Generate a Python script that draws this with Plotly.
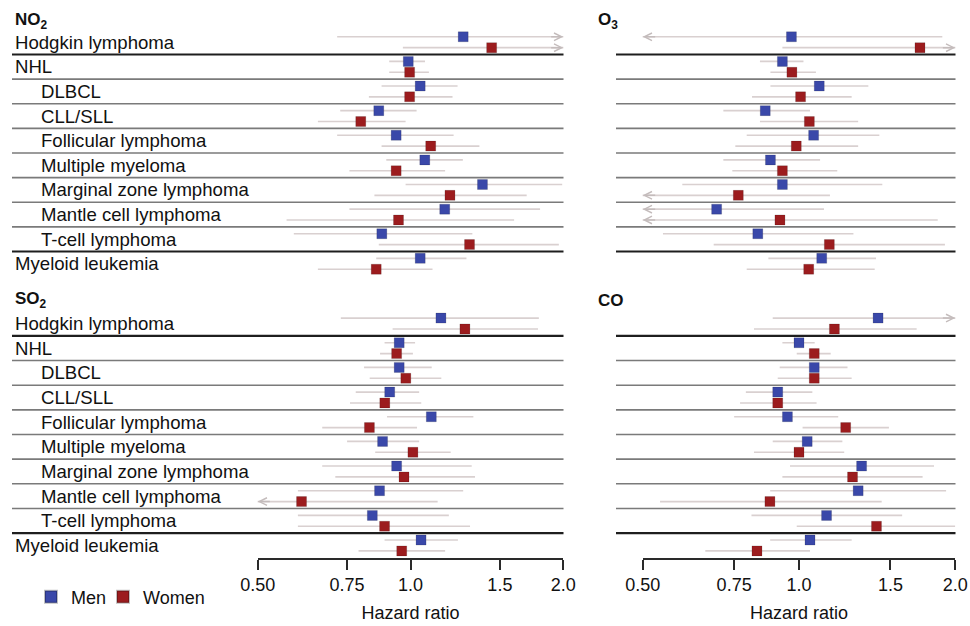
import numpy as np
import plotly.graph_objects as go

# ---------------- data ----------------
categories = ["Hodgkin lymphoma", "NHL", "DLBCL", "CLL/SLL", "Follicular lymphoma",
              "Multiple myeloma", "Marginal zone lymphoma", "Mantle cell lymphoma",
              "T-cell lymphoma", "Myeloid leukemia"]
indented = [False, False, True, True, True, True, True, True, True, False]
tick_vals = [0.5, 0.75, 1.0, 1.5, 2.0]
tick_text = ["0.50", "0.75", "1.0", "1.5", "2.0"]
x_min, x_max = 0.5, 2.0

# NO2
no2_men_hr = [1.27, 0.99, 1.045, 0.866, 0.937, 1.067, 1.386, 1.168, 0.878, 1.045]
no2_men_lo = [0.717, 0.908, 0.877, 0.727, 0.717, 0.896, 0.978, 0.758, 0.589, 0.856]
no2_men_hi = [2.5, 1.068, 1.238, 1.028, 1.216, 1.268, 1.99, 1.80, 1.324, 1.289]
no2_women_hr = [1.445, 0.996, 0.996, 0.798, 1.096, 0.937, 1.196, 0.947, 1.307, 0.856]
no2_women_lo = [0.966, 0.908, 0.828, 0.657, 0.877, 0.758, 0.849, 0.570, 0.866, 0.657]
no2_women_hi = [2.6, 1.087, 1.21, 0.978, 1.367, 1.17, 1.694, 1.60, 1.96, 1.105]

# O3
o3_men_hr = [0.967, 0.929, 1.094, 0.861, 1.067, 0.881, 0.929, 0.694, 0.833, 1.106]
o3_men_lo = [0.45, 0.841, 0.881, 0.715, 0.793, 0.715, 0.596, 0.45, 0.547, 0.873]
o3_men_hi = [1.888, 1.02, 1.36, 1.05, 1.428, 1.098, 1.447, 1.117, 1.273, 1.407]
o3_women_hr = [1.71, 0.969, 1.007, 1.047, 0.988, 0.929, 0.764, 0.919, 1.144, 1.044]
o3_women_lo = [0.929, 0.881, 0.812, 0.841, 0.754, 0.744, 0.45, 0.45, 0.685, 0.793]
o3_women_hi = [2.6, 1.078, 1.263, 1.30, 1.30, 1.185, 1.147, 1.85, 1.91, 1.399]

# SO2
so2_men_hr = [1.148, 0.95, 0.95, 0.91, 1.099, 0.881, 0.939, 0.869, 0.841, 1.049]
so2_men_lo = [0.729, 0.889, 0.81, 0.78, 0.899, 0.75, 0.67, 0.60, 0.60, 0.889]
so2_men_hi = [1.79, 1.021, 1.101, 1.04, 1.33, 1.04, 1.32, 1.27, 1.19, 1.24]
so2_women_hr = [1.28, 0.939, 0.979, 0.89, 0.83, 1.011, 0.971, 0.61, 0.889, 0.961]
so2_women_lo = [0.922, 0.871, 0.831, 0.76, 0.67, 0.852, 0.711, 0.45, 0.60, 0.79]
so2_women_hi = [1.783, 1.011, 1.15, 1.05, 1.03, 1.20, 1.34, 1.131, 1.31, 1.17]

# CO
co_men_hr = [1.42, 1.0, 1.07, 0.91, 0.95, 1.037, 1.32, 1.30, 1.13, 1.05]
co_men_lo = [0.89, 0.929, 0.918, 0.79, 0.75, 0.89, 0.961, 0.88, 0.81, 0.88]
co_men_hi = [2.4, 1.072, 1.24, 1.061, 1.19, 1.212, 1.82, 1.92, 1.58, 1.263]
co_women_hr = [1.17, 1.07, 1.07, 0.91, 1.23, 1.0, 1.268, 0.879, 1.41, 0.83]
co_women_lo = [0.819, 0.99, 0.91, 0.77, 1.016, 0.819, 0.929, 0.54, 0.99, 0.66]
co_women_hi = [1.685, 1.151, 1.263, 1.081, 1.49, 1.222, 1.73, 1.443, 2.0, 1.05]

# ---------------- style / layout ----------------
W, H = 970, 626
FONT = "Liberation Sans, Arial, Helvetica, sans-serif"
MEN_C = "#3a48a9"
WOMEN_C = "#9c1c1e"
CI_C = "#d9d0d0"
ARROW_C = "#c4bcbc"
OFF = 0.22


def px(x):
    return x / W


def py(y):
    return 1 - y / H


panels = [
    dict(title="<b>NO<sub>2</sub></b>", xa="x", ya="y", left=True, top=True,
         men=(no2_men_hr, no2_men_lo, no2_men_hi), women=(no2_women_hr, no2_women_lo, no2_women_hi)),
    dict(title="<b>O<sub>3</sub></b>", xa="x2", ya="y2", left=False, top=True,
         men=(o3_men_hr, o3_men_lo, o3_men_hi), women=(o3_women_hr, o3_women_lo, o3_women_hi)),
    dict(title="<b>SO<sub>2</sub></b>", xa="x3", ya="y3", left=True, top=False,
         men=(so2_men_hr, so2_men_lo, so2_men_hi), women=(so2_women_hr, so2_women_lo, so2_women_hi)),
    dict(title="<b>CO</b>", xa="x4", ya="y4", left=False, top=False,
         men=(co_men_hr, co_men_lo, co_men_hi), women=(co_women_hr, co_women_lo, co_women_hi)),
]

left_dom = [px(257.7), px(563.3)]
right_dom = [px(642.7), px(955.3)]
top_dom = [py(276.1), py(29.9)]
bot_dom = [py(557.8), py(311.2)]

fig = go.Figure()
n = len(categories)
annotations = []
shapes = []


def arrow(xa, ya, y, tip, tail):
    return dict(x=np.log10(tip), y=y, ax=np.log10(tail), ay=y,
                xref=xa, yref=ya, axref=xa, ayref=ya,
                text="", showarrow=True, arrowhead=5, arrowsize=1,
                arrowwidth=1.5, arrowcolor=ARROW_C, standoff=0)


for pi, p in enumerate(panels):
    for sex, key, color, off in (("Men", "men", MEN_C, -OFF), ("Women", "women", WOMEN_C, OFF)):
        hr, lo, hi = p[key]
        xs, ys = [], []
        for i in range(n):
            xs += [lo[i], hi[i], None]
            ys += [i + off, i + off, None]
            if hi[i] > x_max:
                annotations.append(arrow(p["xa"], p["ya"], i + off, x_max, x_max * 0.94))
            if lo[i] < x_min:
                annotations.append(arrow(p["xa"], p["ya"], i + off, x_min, x_min / 0.94))
        fig.add_trace(go.Scatter(x=xs, y=ys, mode="lines", line=dict(color=CI_C, width=1.6),
                                 xaxis=p["xa"], yaxis=p["ya"], showlegend=False, hoverinfo="skip"))

for pi, p in enumerate(panels):
    for sex, key, color, off, leg in (("Men", "men", MEN_C, -OFF, "legend"),
                                      ("Women", "women", WOMEN_C, OFF, "legend2")):
        hr, lo, hi = p[key]
        fig.add_trace(go.Scatter(
            x=hr, y=[i + off for i in range(n)], mode="markers", name=sex,
            marker=dict(symbol="square", size=10, color=color, line=dict(color="rgba(0,0,0,0.25)", width=0.6)),
            xaxis=p["xa"], yaxis=p["ya"], showlegend=(pi == 0), legendgroup=sex, legend=leg))

    # separators
    x0 = 12 if p["left"] else 616
    x1 = 563.5 if p["left"] else 955.5
    for i in range(n - 1):
        thick = i in (0, n - 2)
        shapes.append(dict(type="line", xref="paper", yref=p["ya"], x0=px(x0), x1=px(x1),
                           y0=i + 0.5, y1=i + 0.5, layer="below",
                           line=dict(color="#1e1e1e" if thick else "#7a7a7a", width=2.2 if thick else 1.6)))
    # titles
    tx = 13 if p["left"] else 596
    ty = 21 if p["top"] else 300
    annotations.append(dict(x=px(tx), y=py(ty), xref="paper", yref="paper", text=p["title"],
                            showarrow=False, xanchor="left", yanchor="middle",
                            font=dict(family=FONT, size=17, color="#111")))
    # category labels
    if p["left"]:
        for i, c in enumerate(categories):
            annotations.append(dict(x=px(39 if indented[i] else 13), y=i, xref="paper", yref=p["ya"],
                                    text=c, showarrow=False, xanchor="left", yanchor="middle",
                                    font=dict(family=FONT, size=18.6, color="#111")))

# reference line at HR = 1.0
for xa in ("x3", "x4"):
    shapes.append(dict(type="line", xref=xa, yref="paper", x0=np.log10(1.0), x1=np.log10(1.0),
                       y0=py(558), y1=py(31), layer="below", line=dict(color="#d4d4d4", width=1.5)))

hidden_x = dict(type="log", range=[np.log10(x_min), np.log10(x_max)], visible=False, fixedrange=True)
shown_x = dict(type="log", range=[np.log10(x_min), np.log10(x_max)], showgrid=False, zeroline=False,
               showline=True, linecolor="#2a2a2a", linewidth=1.6, ticks="outside", ticklen=10,
               tickwidth=1.6, tickcolor="#2a2a2a", tickvals=tick_vals, ticktext=tick_text,
               tickfont=dict(family=FONT, size=18, color="#111"), automargin=False,
               ticklabeloverflow="allow", fixedrange=True,
               title=dict(text="Hazard ratio", font=dict(family=FONT, size=18, color="#111"), standoff=12))
yax = dict(range=[n - 0.5, -0.5], visible=False, fixedrange=True)
leg_common = dict(orientation="h", yanchor="middle", xanchor="left",
                  font=dict(family=FONT, size=18, color="#111"), itemsizing="constant",
                  bgcolor="rgba(0,0,0,0)")

fig.update_layout(
    width=W, height=H, autosize=False,
    margin=dict(l=0, r=0, t=0, b=0),
    paper_bgcolor="white", plot_bgcolor="rgba(0,0,0,0)",
    font=dict(family=FONT, size=18, color="#111"),
    xaxis=dict(domain=left_dom, anchor="y", **hidden_x),
    yaxis=dict(domain=top_dom, anchor="x", **yax),
    xaxis2=dict(domain=right_dom, anchor="y2", **hidden_x),
    yaxis2=dict(domain=top_dom, anchor="x2", **yax),
    xaxis3=dict(domain=left_dom, anchor="y3", **shown_x),
    yaxis3=dict(domain=bot_dom, anchor="x3", **yax),
    xaxis4=dict(domain=right_dom, anchor="y4", **shown_x),
    yaxis4=dict(domain=bot_dom, anchor="x4", **yax),
    legend=dict(x=px(31), y=py(597), **leg_common),
    legend2=dict(x=px(103), y=py(597), **leg_common),
    annotations=annotations,
    shapes=shapes,
    showlegend=True,
)

# remove the default 8px body margin of the html page so the figure fills the window exactly
fig.write_html("out.html",
               config={"displayModeBar": False, "staticPlot": False},
               post_script="document.body.style.margin='0px';document.body.style.overflow='hidden';")
